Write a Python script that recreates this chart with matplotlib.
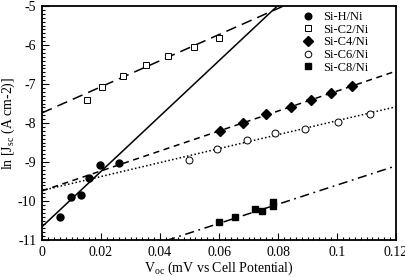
import matplotlib
matplotlib.use("Agg")
import matplotlib.pyplot as plt
from matplotlib.ticker import MultipleLocator, FormatStrFormatter
import numpy as np

plt.rcParams['font.family'] = 'serif'
plt.rcParams['font.serif'] = ['Liberation Serif', 'DejaVu Serif']
plt.rcParams['axes.unicode_minus'] = False
plt.rcParams['mathtext.fontset'] = 'custom'
plt.rcParams['mathtext.rm'] = 'Liberation Serif'

# данные
h_x = [0.0061, 0.0097, 0.0132, 0.0160, 0.0197, 0.0260]
h_y = [-10.42, -9.89, -9.85, -9.41, -9.07, -9.02]

c2_x = [0.0151, 0.0205, 0.0276, 0.0351, 0.0426, 0.0515, 0.0601]
c2_y = [-7.41, -7.07, -6.79, -6.52, -6.27, -6.06, -5.81]

c4_x = [0.0603, 0.0680, 0.0759, 0.0843, 0.0913, 0.0981, 0.1051]
c4_y = [-8.20, -8.01, -7.78, -7.60, -7.41, -7.24, -7.05]

c6_x = [0.0498, 0.0594, 0.0694, 0.0791, 0.0892, 0.1002, 0.1112]
c6_y = [-8.94, -8.67, -8.43, -8.26, -8.14, -7.97, -7.77]

c8_x = [0.0600, 0.0654, 0.0722, 0.0746, 0.0784, 0.0784]
c8_y = [-10.55, -10.42, -10.21, -10.26, -10.03, -10.13]

# линии аппроксимации: (наклон, свободный член)
fit_h = (71.0, -10.66)
fit_c2 = (33.5, -7.74)
fit_c4 = (25.6, -9.74)
fit_c6 = (17.9, -9.73)
fit_c8 = (24.6, -12.05)

labels = ['Si-H/Ni', 'Si-C2/Ni', 'Si-C4/Ni', 'Si-C6/Ni', 'Si-C8/Ni']

fs = 10

fig = plt.figure(figsize=(4.05, 2.77), dpi=100)
ax = fig.add_axes([0.1037, 0.1336, 0.8743, 0.8444])

xx = np.array([0.0, 0.12])
ax.plot(xx, fit_h[0] * xx + fit_h[1], color='black', lw=1.1, ls='-')
ax.plot(xx, fit_c2[0] * xx + fit_c2[1], color='black', lw=1.1, ls=(0, (7, 4)))
ax.plot(xx, fit_c4[0] * xx + fit_c4[1], color='black', lw=1.1, ls=(0, (4, 3)))
ax.plot(xx, fit_c6[0] * xx + fit_c6[1], color='black', lw=1.1, ls=(0, (1, 1.5)))
ax.plot(xx, fit_c8[0] * xx + fit_c8[1], color='black', lw=1.1, ls=(0, (6, 3, 1.2, 3)))

ms = 5
ax.plot(h_x, h_y, 'o', color='black', ms=ms, label=labels[0])
ax.plot(c2_x, c2_y, 's', mfc='white', mec='black', mew=0.7, ms=ms, label=labels[1])
ax.plot(c4_x, c4_y, 'D', color='black', ms=ms, label=labels[2])
ax.plot(c6_x, c6_y, 'o', mfc='white', mec='black', mew=0.7, ms=ms, label=labels[3])
ax.plot(c8_x, c8_y, 's', color='black', ms=ms, label=labels[4])

ax.set_xlim(0, 0.12)
ax.set_ylim(-11, -5)
ax.xaxis.set_major_locator(MultipleLocator(0.02))
ax.xaxis.set_minor_locator(MultipleLocator(0.002))
ax.yaxis.set_major_locator(MultipleLocator(1))
ax.yaxis.set_minor_locator(MultipleLocator(0.1))
ax.xaxis.set_major_formatter(plt.FuncFormatter(lambda v, p: ('%g' % round(v, 3))))
ax.yaxis.set_major_formatter(FormatStrFormatter('%d'))
ax.tick_params(which='both', direction='in', top=False, right=False, labelsize=fs, width=0.8)
ax.tick_params(which='major', length=5, pad=4)
ax.tick_params(which='minor', length=2.5)
for s in ax.spines.values():
    s.set_linewidth(1.3)

ax.set_xlabel('V$_\\mathrm{oc}$ (mV vs Cell Potential)', fontsize=fs, labelpad=1)
ax.set_ylabel('ln [J$_\\mathrm{sc}$ (A cm-2)]', fontsize=fs, labelpad=1)

leg = ax.legend(loc='upper left', bbox_to_anchor=(0.715, 1.0), frameon=False, fontsize=9,
                handletextpad=0.6, labelspacing=0.05, borderaxespad=0.0, handlelength=1.2,
                markerscale=0.95)

fig.savefig('out.png', dpi=100)
